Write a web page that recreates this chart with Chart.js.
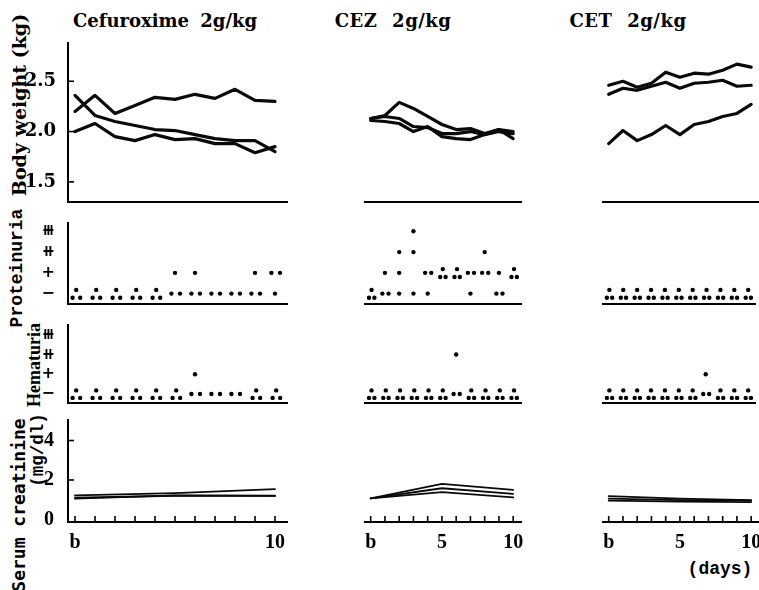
<!DOCTYPE html>
<html><head><meta charset="utf-8">
<script src="https://cdn.jsdelivr.net/npm/chart.js@4.4.1/dist/chart.umd.min.js"></script>
<style>
html,body{margin:0;padding:0;background:#fff;}
#wrap{position:relative;width:759px;height:590px;overflow:hidden;background:#fff;}
#wrap canvas{position:absolute;left:0;top:0;}
.lbl{position:absolute;color:#000;white-space:nowrap;line-height:1;}
.rot{transform:translate(-50%,-50%) rotate(-90deg);}
.ctr{transform:translate(-50%,-50%);}
</style></head><body><div id="wrap">
<div id="t0" class="lbl ctr" style="left:165px;top:19.5px;font:bold 18px 'DejaVu Serif';word-spacing:5px"></div>
<div id="t1" class="lbl ctr" style="left:393px;top:19.5px;font:bold 18px 'DejaVu Serif';word-spacing:8px;letter-spacing:0.5px"></div>
<div id="t2" class="lbl ctr" style="left:628px;top:19.5px;font:bold 18px 'DejaVu Serif';word-spacing:8px;letter-spacing:0.5px"></div>
<div class="lbl rot" style="left:19px;top:105px;font:bold 19px 'DejaVu Serif'">Body weight (kg)</div>
<div class="lbl rot" style="left:17px;top:268px;font:bold 18px 'Liberation Mono'">Proteinuria</div>
<div class="lbl rot" style="left:34px;top:365px;font:bold 18px 'Liberation Serif'">Hematuria</div>
<div class="lbl rot" style="left:18px;top:505px;font:bold 18px 'DejaVu Sans Mono'">Serum creatinine</div>
<div class="lbl rot" style="left:38px;top:450px;font:bold 17.5px 'Liberation Mono'">(mg/dl)</div>
<div class="lbl ctr" style="left:720px;top:569px;font:bold 18px 'Liberation Mono'">(days)</div>
</div>
<script>
// ---------- data ----------
const groupTitles = ['Cefuroxime 2g/kg', 'CEZ 2g/kg', 'CET 2g/kg'];
const days = [0,1,2,3,4,5,6,7,8,9,10];
const dayTickLabels = ['b','1','2','3','4','5','6','7','8','9','10'];
const shownDaysLeft = ['b','10'];
const shownDays = ['b','5','10'];
const bwTicks = [1.5, 2.0, 2.5];
const bwTickLabels = ['1.5','2.0','2.5'];
const gradeTicks = [0,1,2,3];
const gradeLabels = ['\u2212','+','\u29FA','\u29FB'];
const crTicks = [0,2,4];
const crTickLabels = ['0','2','4'];
const crDays = [0,5,10];

// body weight (kg), 3 animals per group
const bwCefuroxime = [
  [2.20,2.36,2.18,2.26,2.34,2.32,2.37,2.33,2.42,2.31,2.30],
  [2.36,2.16,2.10,2.06,2.02,2.01,1.97,1.93,1.91,1.91,1.80],
  [2.00,2.08,1.95,1.91,1.97,1.92,1.93,1.88,1.88,1.79,1.85]
];
const bwCEZ = [
  [2.13,2.16,2.29,2.23,2.15,2.07,2.02,2.03,1.98,2.02,1.93],
  [2.13,2.15,2.13,2.05,2.04,1.98,1.98,2.00,1.97,2.00,1.98],
  [2.11,2.10,2.08,2.00,2.05,1.95,1.93,1.92,1.97,2.02,2.00]
];
const bwCET = [
  [2.46,2.50,2.44,2.48,2.59,2.54,2.58,2.57,2.61,2.67,2.64],
  [2.37,2.43,2.41,2.45,2.49,2.43,2.48,2.49,2.51,2.45,2.46],
  [1.88,2.01,1.91,1.97,2.06,1.97,2.07,2.10,2.15,2.18,2.27]
];
// proteinuria grade (0 = -, 1 = +, 2 = ++, 3 = +++)
const proCefuroxime = [
  [0,0,0,0,0,1,1,0,0,1,1],
  [0,0,0,0,0,0,0,0,0,0,1],
  [0,0,0,0,0,0,0,null,null,0,0]
];
const proCEZ = [
  [0,1,2,3,1,1,1,1,2,1,1],
  [0,0,1,2,1,1,1,1,1,0,1],
  [0,0,0,0,0,1,1,0,1,0,1]
];
const proCET = [
  [0,0,0,0,0,0,0,0,0,0,0],
  [0,0,0,0,0,0,0,0,0,0,0],
  [0,0,0,0,0,0,0,0,0,0,0]
];
// hematuria grade
const hemCefuroxime = [
  [0,0,0,0,0,0,1,0,0,0,0],
  [0,0,0,0,0,0,0,0,0,0,0],
  [0,0,0,0,0,0,0,null,null,0,0]
];
const hemCEZ = [
  [0,0,0,0,0,0,2,0,0,0,0],
  [0,0,0,0,0,0,0,0,0,0,0],
  [0,0,0,0,0,0,0,0,0,0,0]
];
const hemCET = [
  [0,0,0,0,0,0,0,1,0,0,0],
  [0,0,0,0,0,0,0,0,0,0,0],
  [0,0,0,0,0,0,0,0,0,0,0]
];
// serum creatinine (mg/dl) at b, day 5, day 10
const crCefuroxime = [
  [1.22,1.33,1.54],
  [1.05,1.22,1.19],
  [1.10,1.20,1.20]
];
const crCEZ = [
  [1.07,1.80,1.50],
  [1.07,1.58,1.30],
  [1.07,1.38,1.12]
];
const crCET = [
  [1.18,1.05,0.98],
  [1.05,0.98,0.95],
  [0.95,0.90,0.88]
];

// ---------- layout ----------
const W = 759, H = 590;
const cols = [
  {left:68, right:287, min:-0.35, max:10.6, shown: shownDaysLeft},
  {left:305, right:521, min:-0.4, max:10.55, shown: shownDays},
  {left:543, right:759, min:-0.4, max:10.55, shown: shownDays}
];
const rows = {
  bw:  {top:43,  bottom:202, min:1.3,  max:2.88},
  pro: {top:223, bottom:304, min:-0.5, max:3.4},
  hem: {top:325, bottom:403, min:-0.46,max:3.5},
  cr:  {top:420, bottom:522, min:-0.13,max:5.04}
};
const Y_AXIS_W = 60, X_AXIS_H = 40;

groupTitles.forEach((t,i)=>{ document.getElementById('t'+i).textContent = t; });

const inTicks = {
  id: 'inTicks',
  afterDatasetsDraw(chart, args, o) {
    if (!o || (!o.x && !o.y)) return;
    const ctx = chart.ctx;
    ctx.save(); ctx.strokeStyle = '#000'; ctx.lineWidth = 1.6;
    if (o.x) {
      const s = chart.scales.x;
      s.ticks.forEach(t => { const p = s.getPixelForValue(t.value);
        ctx.beginPath(); ctx.moveTo(p, s.top); ctx.lineTo(p, s.top - o.len); ctx.stroke(); });
    }
    if (o.y) {
      const s = chart.scales.y;
      s.ticks.forEach(t => { if (o.skipZero && t.value === 0) return; const p = s.getPixelForValue(t.value);
        ctx.beginPath(); ctx.moveTo(s.right, p); ctx.lineTo(s.right + o.len, p); ctx.stroke(); });
    }
    ctx.restore();
  }
};

// animals sharing a grade on one day are drawn as a small cluster around that grade
function dotPoints(animals) {
  const pts = [];
  days.forEach((d, di) => {
    const byLevel = {};
    animals.forEach(a => { const v = a[di]; if (v === null || v === undefined) return; byLevel[v] = (byLevel[v] || 0) + 1; });
    Object.keys(byLevel).forEach(lv => {
      const n = byLevel[lv], L = +lv;
      const offs = n === 1 ? [[0,0]] : n === 2 ? [[-0.18,0],[0.25,0]] : [[0.06,0.18],[-0.12,-0.2],[0.26,-0.2]];
      offs.forEach(([dx,dy]) => pts.push({x: d + dx, y: L + dy}));
    });
  });
  return pts;
}

function makeChart(ci, rowKey, datasets, yOpts, xOpts, tickOpts) {
  const c = cols[ci], r = rows[rowKey];
  const cv = document.createElement('canvas');
  cv.width = W; cv.height = H;
  document.getElementById('wrap').appendChild(cv);
  const showY = ci === 0;
  const xh = xOpts ? X_AXIS_H : 0;
  new Chart(cv, {
    type: 'scatter',
    data: {datasets},
    plugins: [inTicks],
    options: {
      responsive: false, animation: false, events: [],
      layout: {padding: {left: c.left - (showY ? Y_AXIS_W : 0), right: W - c.right, top: r.top, bottom: H - r.bottom - xh}},
      plugins: {legend: {display: false}, tooltip: {enabled: false}, inTicks: tickOpts || {}},
      scales: {
        x: {
          type: 'linear', min: c.min, max: c.max,
          grid: {display: false},
          border: {display: true, color: '#000', width: 2},
          afterBuildTicks: s => { s.ticks = days.map(v => ({value: v})); },
          afterFit: s => { s.height = xh; s.paddingLeft = 0; s.paddingRight = 0; },
          ticks: xOpts ? {
            display: true, autoSkip: false, maxRotation: 0, padding: 1, color: '#000',
            font: {family: 'Liberation Serif', size: 20, weight: 'bold'},
            callback: v => { const l = dayTickLabels[v]; return c.shown.includes(l) ? l : ''; }
          } : {display: false}
        },
        y: Object.assign({
          type: 'linear', min: r.min, max: r.max, display: showY,
          grid: {display: false},
          border: {display: true, color: '#000', width: 2},
          afterFit: s => { s.width = Y_AXIS_W; s.paddingTop = 0; s.paddingBottom = 0; }
        }, yOpts || {})
      }
    }
  });
}

function lineSets(series, xs, width) {
  return series.map(s => ({
    data: s.map((v, i) => ({x: xs[i], y: v})),
    showLine: true, borderColor: '#0a0a0a', borderWidth: width, pointRadius: 0,
    tension: 0, borderJoinStyle: 'round', borderCapStyle: 'round', clip: false
  }));
}
function dotSet(animals) {
  return [{data: dotPoints(animals), pointRadius: 2.2, pointBackgroundColor: '#000', pointBorderWidth: 0, clip: false}];
}

const bwY = {
  afterBuildTicks: s => { s.ticks = bwTicks.map(v => ({value: v})); },
  ticks: {padding: 4, color: '#000', font: {family: 'DejaVu Serif', size: 18, weight: 'bold'},
          callback: v => bwTickLabels[bwTicks.indexOf(v)]}
};
const gradeY = {
  afterBuildTicks: s => { s.ticks = gradeTicks.map(v => ({value: v})); },
  ticks: {padding: 5, color: '#000', font: {family: 'DejaVu Sans', size: 16, weight: 'bold'},
          callback: v => gradeLabels[v]}
};
const crY = {
  afterBuildTicks: s => { s.ticks = crTicks.map(v => ({value: v})); },
  ticks: {padding: 6, color: '#000', font: {family: 'Liberation Serif', size: 20, weight: 'bold'},
          callback: v => crTickLabels[crTicks.indexOf(v)]}
};

const bwAll = [bwCefuroxime, bwCEZ, bwCET];
const proAll = [proCefuroxime, proCEZ, proCET];
const hemAll = [hemCefuroxime, hemCEZ, hemCET];
const crAll = [crCefuroxime, crCEZ, crCET];

for (let ci = 0; ci < 3; ci++) {
  makeChart(ci, 'bw', lineSets(bwAll[ci], days, 3.2), bwY, false, ci === 0 ? {y: true, len: 6} : null);
  makeChart(ci, 'pro', dotSet(proAll[ci]), gradeY, false, null);
  makeChart(ci, 'hem', dotSet(hemAll[ci]), gradeY, false, null);
  makeChart(ci, 'cr', lineSets(crAll[ci], crDays, 1.8), crY, true, {x: true, y: ci === 0, len: 6, skipZero: true});
}
</script>
</body></html>
